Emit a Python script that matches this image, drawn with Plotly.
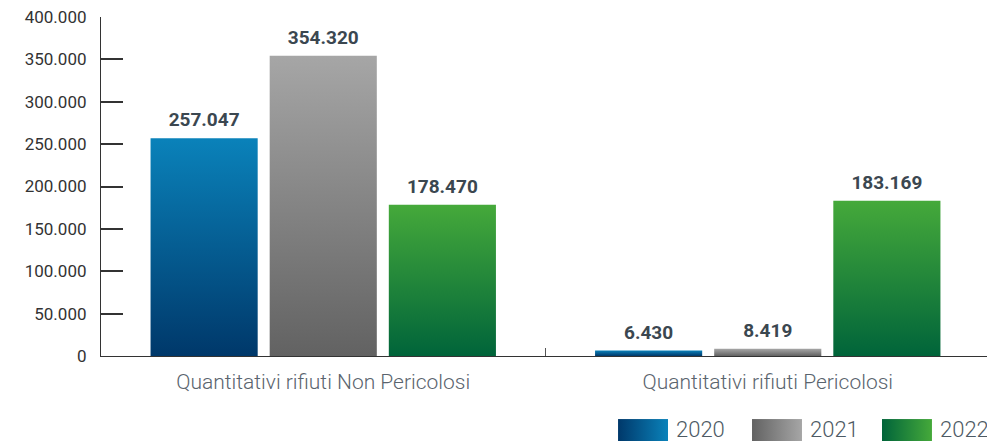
import base64
import plotly.graph_objects as go

categories = ["Quantitativi rifiuti Non Pericolosi", "Quantitativi rifiuti Pericolosi"]
years = ["2020", "2021", "2022"]
values_2020 = [257047, 6430]
values_2021 = [354320, 8419]
values_2022 = [178470, 183169]
y_ticks = [0, 50000, 100000, 150000, 200000, 250000, 300000, 350000, 400000]

series = [values_2020, values_2021, values_2022]
# (dark, light) per year
palette = [("#00386a", "#0a82ba"), ("#626262", "#a6a6a6"), ("#00643a", "#45a93a")]

pitch = 0.268      # distance between bar centres inside a group (category units)
bar_w = 0.241      # bar width (category units)

fig = go.Figure()

for j, (year, vals) in enumerate(zip(years, series)):
    dark, light = palette[j]
    xs_lab = []
    for i, v in enumerate(vals):
        xc = i + (j - 1) * pitch
        x0, x1 = xc - bar_w / 2, xc + bar_w / 2
        xs_lab.append(xc)
        fig.add_trace(go.Scatter(
            x=[x0, x0, x1, x1, x0], y=[0, v, v, 0, 0],
            mode="lines", fill="toself", line=dict(width=0),
            fillgradient=dict(type="vertical", colorscale=[[0, dark], [1, light]]),
            name=year, showlegend=False, hoverinfo="skip",
        ))
    # value labels above the bars (invisible marker pushes the text up)
    fig.add_trace(go.Scatter(
        x=xs_lab, y=vals, mode="markers+text", text=vals,
        marker=dict(size=10, color="rgba(0,0,0,0)"),
        texttemplate="%{y:,}", textposition="top center",
        textfont=dict(family="Roboto", size=19, color="#3b4750", weight="bold"),
        showlegend=False, name=year,
    ))

# legend drawn as gradient swatches + labels
def swatch(dark, light):
    svg = ('<svg xmlns="http://www.w3.org/2000/svg" width="50" height="22">'
           '<defs><linearGradient id="g" x1="0" y1="0" x2="1" y2="0">'
           f'<stop offset="0" stop-color="{dark}"/><stop offset="1" stop-color="{light}"/>'
           '</linearGradient></defs><rect width="50" height="22" fill="url(#g)"/></svg>')
    return "data:image/svg+xml;base64," + base64.b64encode(svg.encode()).decode()

leg_x = [0.5816, 0.7323, 0.8785]
for j, year in enumerate(years):
    fig.add_layout_image(dict(
        source=swatch(*palette[j]), xref="paper", yref="paper",
        x=leg_x[j], y=-0.186, sizex=0.0562, sizey=0.065,
        xanchor="left", yanchor="top", sizing="stretch", layer="above",
    ))
    fig.add_annotation(
        x=leg_x[j] + 0.063, y=-0.218, xref="paper", yref="paper",
        text=year, showarrow=False, xanchor="left", yanchor="middle",
        font=dict(family="Roboto", size=22, color="#4d5a64", weight=300),
    )

# page body adds an 8px margin, so the figure is 8px smaller than the window
fig.update_layout(
    width=987, height=433,
    margin=dict(l=93, r=5, t=9, b=85),
    plot_bgcolor="white", paper_bgcolor="white",
    separators=",.",
    showlegend=False,
    font=dict(family="Roboto"),
)
fig.update_xaxes(
    range=[-0.5, 1.5], tickmode="array", tickvals=[0, 1], ticktext=categories,
    ticks="", showgrid=False, zeroline=False, automargin=False,
    showline=True, linecolor="#333333", linewidth=1.2,
    tickfont=dict(size=21, color="#5a646e", weight=300),
    ticklabelstandoff=7,
    minor=dict(tickmode="array", tickvals=[0.5, 1.5], ticks="inside",
               ticklen=8, tickcolor="#555555", tickwidth=1, showgrid=False),
)
fig.update_yaxes(
    range=[0, 400000], tickmode="array", tickvals=y_ticks, tickformat=",d",
    ticks="inside", ticklen=22, tickwidth=1.5, tickcolor="#333333",
    showline=True, linecolor="#333333", linewidth=1.2,
    showgrid=False, zeroline=False, automargin=False,
    tickfont=dict(size=17, color="#333333"),
    ticklabelstandoff=10, ticklabeloverflow="allow",
)

fig.write_html("out.html")
